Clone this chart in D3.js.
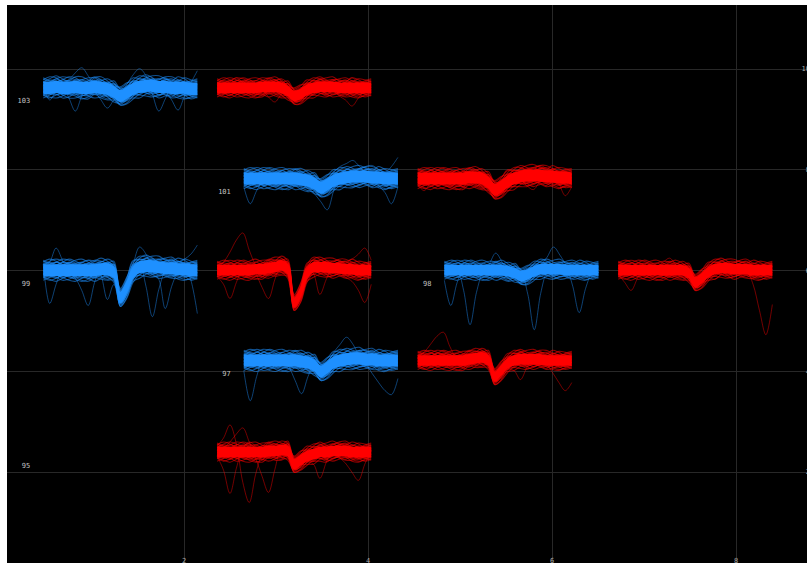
<!DOCTYPE html>
<html>
<head>
<meta charset="utf-8">
<script src="https://cdn.jsdelivr.net/npm/d3@7"></script>
<style>
  html, body { margin: 0; padding: 0; background: #fff; }
  svg { display: block; }
</style>
</head>
<body>
<svg id="chart" width="807" height="563"></svg>
<script>
// Axis ticks (probe geometry units)
const xTicks = [2, 4, 6, 8];
const yTicks = [2, 4, 6, 8, 10];

// Channel positions on the probe
const channelIds = [103, 101, 99, 98, 97, 95];
const channelX = [0.47, 2.65, 0.47, 4.83, 2.65, 0.47];
const channelY = [9.62, 7.82, 6.0, 6.0, 4.21, 2.39];

// Clusters: colour and horizontal offset of their waveform box
const clusterColors = ["#1e90ff", "#ff0000"];
const clusterOffsets = [0, 1.89];
const waveWidth = 1.675;

// One entry per (channel, cluster) waveform group
const groupChannel = [103, 103, 101, 101, 99, 99, 98, 98, 97, 97, 95];
const groupCluster = [0, 1, 0, 1, 0, 1, 0, 1, 0, 1, 1];
const groupSpread = [8, 7, 8, 8, 8, 7, 7, 7, 8, 7, 7];

// Mean waveform of each group (µV, 25 samples)
const meanWaves = [
  [0,0,1,0,0,1,0,0,1,0,-1,-4,-8,-5,-1,1,2,2,1,1,0,0,0,-1,-1],
  [0,0,0,0,0,0,0,1,1,1,0,-3,-8,-6,-2,0,1,1,1,0,0,0,0,0,0],
  [0,0,0,0,0,0,0,0,0,-1,-2,-5,-9,-6,-2,0,1,2,2,2,1,1,0,0,0],
  [0,0,0,0,0,0,0,0,1,1,0,-4,-11,-8,-3,0,2,3,3,3,2,2,1,1,0],
  [0,0,0,0,0,0,0,0,0,1,1,-2,-27,-17,-2,3,4,4,3,2,2,1,1,0,0],
  [0,0,0,0,0,0,1,1,2,3,5,1,-32,-22,-3,3,3,3,2,2,1,1,0,0,0],
  [0,0,0,0,0,0,0,0,0,0,-1,-3,-6,-4,-1,1,1,1,1,0,0,0,0,0,0],
  [0,0,0,0,0,0,0,0,0,0,0,-3,-12,-8,-2,1,2,2,1,1,1,0,0,0,0],
  [0,0,0,0,0,0,0,0,0,-1,-2,-5,-11,-7,-2,0,1,2,2,1,1,0,0,0,0],
  [0,0,0,0,0,0,0,0,1,2,3,0,-16,-10,-3,0,1,1,1,1,0,0,0,0,0],
  [0,0,0,0,0,0,0,0,1,1,2,1,-12,-8,-4,-2,0,0,1,1,1,0,0,0,0]
];

// Ripple of ordinary spikes around the mean (µV)
const ripples = [
  [2,-1,-3,0,3,1,-2,-3,1,3,0,-2,1,2,-1,-3,0,2,3,0,-2,-1,2,1,-1],
  [-2,1,3,1,-2,-3,0,2,1,-2,-3,0,-1,-2,1,3,1,-2,-1,2,3,0,-2,-1,1],
  [0,3,1,-2,-1,2,3,0,-3,-1,2,1,0,1,3,0,-2,-3,0,1,-1,3,1,-2,0],
  [1,-2,0,3,2,-1,-3,-1,2,0,-2,3,-1,-3,-2,1,3,0,-3,-1,1,-2,-3,0,2]
];
// Vertical placement of the ripple traces inside the cloud (fraction of spread)
const rippleLevels = [-1, -0.6, -0.2, 0.2, 0.6, 1];

// Individual spikes that stray from the mean (deviation from mean, µV)
const strayWaves = [
  [ [2,-12,-4,3,8,14,20,12,2,-3,2,5,3,0,-4,-2,3,6,2,-3,-5,-2,1,3,4],
    [-3,2,6,2,-10,-24,-8,4,6,2,-2,-6,-2,4,8,5,0,-4,-8,-3,2,6,3,-2,-5],
    [5,3,-2,-6,-3,4,8,6,-4,-12,-19,-8,2,6,3,-2,-6,-3,4,8,5,-2,-6,-3,2],
    [-4,-2,3,6,4,-2,-6,-3,2,5,3,-1,2,8,14,18,10,-8,-24,-12,2,6,3,-2,-4],
    [2,4,0,-5,-3,3,6,2,-3,-6,-2,3,5,2,-2,-4,2,7,3,-4,-12,-22,-8,6,18] ],
  [ [3,-4,-8,-3,4,8,4,-2,-10,-15,-6,2,4,2,-3,-6,-2,3,5,2,-3,-6,-2,3,1],
    [-2,3,6,10,5,-2,-6,-4,2,6,8,4,0,-5,-3,4,8,6,-2,-8,-12,-18,-10,-2,2],
    [0,-6,-3,4,6,2,-5,-9,-3,4,6,2,-2,3,6,2,-4,-8,-4,2,6,10,5,-2,-4] ],
  [ [-8,-25,-12,-2,4,6,2,-3,-6,-2,3,5,2,-4,-8,-4,2,6,3,-2,-5,-2,3,6,4],
    [3,5,2,-4,-6,-2,4,6,3,-2,-6,-10,-14,-25,-10,4,8,5,0,-4,-6,-2,2,4,2],
    [-2,-4,2,6,3,-3,-5,-1,4,6,2,-3,-1,4,8,12,14,16,10,3,-4,-8,-14,-25,-8],
    [4,2,-3,-6,-2,5,8,4,-2,-5,-2,3,6,3,-3,-6,-4,3,8,10,12,8,6,12,21] ],
  [ [-6,-12,-4,3,6,2,-3,-6,-2,4,6,2,-2,3,6,2,-4,-8,-6,2,6,4,-6,-18,-8],
    [4,2,-3,-6,-2,4,8,5,-2,-6,-9,-4,2,5,3,-2,-6,-3,4,10,8,2,-4,-6,-2],
    [-2,4,8,3,-4,-9,-4,3,6,2,-4,-2,4,8,12,6,-3,-10,-14,-6,3,6,2,-3,-4] ],
  [ [6,-33,-14,2,8,4,-4,-8,-3,4,6,2,3,-2,-6,-2,4,8,3,-5,-8,-3,4,8,6],
    [-4,2,8,4,-3,-8,-20,-35,-12,3,6,4,-3,2,6,3,-4,-8,-4,2,6,4,-2,-6,-3],
    [3,8,22,10,-2,-6,-2,3,6,-6,-30,-12,2,4,8,20,12,-5,-12,-40,-18,-2,4,2,-2],
    [-2,-5,-2,3,6,4,-2,-5,-2,4,6,3,-2,-4,-2,4,-20,-50,-22,-2,5,8,4,-10,-43],
    [4,2,-3,-8,-4,3,7,10,5,-2,-6,-3,4,8,12,6,-2,-6,-3,4,8,6,10,16,25] ],
  [ [2,8,18,30,37,20,4,-4,-6,-2,3,4,2,-2,-4,-1,3,5,2,-3,-5,-2,3,8,4],
    [-6,-14,-28,-12,2,6,3,-4,-8,-3,4,6,3,-2,-5,-4,2,6,4,-2,-8,-12,-20,-32,-14],
    [3,-2,-6,-2,4,6,-4,-18,-30,-12,2,5,3,4,6,-6,-27,-12,2,6,3,-3,-6,-2,3],
    [-3,2,6,3,-3,-6,-2,3,6,4,-2,-4,-2,3,6,3,-2,-5,-3,4,8,10,16,22,10] ],
  [ [-10,-35,-12,2,5,3,-2,-4,-1,3,5,2,-2,-4,-2,3,6,4,-2,-6,-3,2,4,2,-2],
    [3,6,2,-20,-54,-22,-2,4,8,4,-2,-5,-2,3,5,2,-3,-6,-2,4,6,3,-2,-4,-2],
    [-2,-4,2,6,3,-3,-5,6,17,8,-2,-3,2,-20,-58,-24,-2,4,3,-2,-4,-2,3,5,2],
    [4,2,-3,-6,-3,3,6,3,-2,-5,-2,4,6,3,-2,4,12,22,14,4,-16,-42,-18,-2,3] ],
  [ [2,-4,-2,3,5,2,-3,-5,-2,3,4,2,-1,-3,-2,3,5,2,-2,-4,-2,-14,-40,-64,-34],
    [-4,-12,-20,-8,2,6,3,-3,-6,-2,4,6,3,-2,-4,-1,3,6,8,4,-2,-6,-3,2,4],
    [4,6,2,-4,-8,-3,3,8,12,5,-3,-6,-2,3,-4,-10,-6,2,5,3,-3,-8,-3,3,6] ],
  [ [-10,-40,-16,2,6,3,-3,-6,-2,4,6,2,-2,-4,-1,3,5,2,-3,-6,-2,3,5,2,-2],
    [3,6,2,-4,-8,-4,2,-6,-20,-32,-14,2,4,2,-2,-4,-2,3,6,3,-2,-5,-2,3,4],
    [-2,-4,2,6,3,-3,-5,-2,3,6,3,-2,-4,4,10,16,22,14,2,-6,-3,2,6,4,2],
    [4,2,-4,-8,-3,4,6,2,-4,-6,-2,3,5,2,-3,-6,-3,2,4,-4,-14,-22,-30,-34,-18] ],
  [ [3,8,16,24,28,14,2,-4,-2,3,4,2,-2,-4,-2,3,5,2,-3,-5,-2,3,4,2,-2],
    [-4,-8,-3,3,6,3,-3,-6,-2,4,6,3,2,-3,-6,-10,-20,-8,2,5,3,-2,-4,-2,2],
    [2,-3,-6,-2,4,6,2,-4,-8,-3,3,5,2,-2,-4,2,6,4,-3,-6,-4,-12,-22,-30,-22] ],
  [ [-4,-18,-41,-16,4,10,6,-2,-6,-2,3,5,2,-2,-4,-2,3,5,2,-2,-4,-2,3,5,2],
    [6,14,27,8,-30,-50,-22,-2,5,4,-2,-5,-2,3,5,2,-3,-5,-2,3,6,3,-2,-4,-2],
    [-3,4,10,18,24,10,-6,-24,-41,-18,2,4,2,-3,-6,-10,-26,-10,3,6,2,-3,-6,-2,2],
    [2,-2,-6,-2,4,8,4,-2,-5,-2,3,6,3,-2,-4,-2,4,6,2,-6,-12,-20,-28,-12,2] ]
];

const ampGain = 0.02; // probe y-units per µV

const svg = d3.select("#chart");
const W = 807, H = 563;

const x = d3.scaleLinear().domain([0, 8]).range([0, 736]);
const y = d3.scaleLinear().domain([0, 10]).range([572.5, 68.75]);

// Plot background
svg.append("rect").attr("x", 7).attr("y", 5)
  .attr("width", W - 7).attr("height", H - 5).attr("fill", "#000");

const plot = svg.append("g");

// Grid
plot.append("g").selectAll("line").data(xTicks).join("line")
  .attr("x1", d => x(d) + 0.5).attr("x2", d => x(d) + 0.5)
  .attr("y1", 5).attr("y2", H)
  .attr("stroke", "#282828").attr("stroke-width", 1);
plot.append("g").selectAll("line").data(yTicks).join("line")
  .attr("x1", 7).attr("x2", W)
  .attr("y1", d => Math.round(y(d)) + 0.5).attr("y2", d => Math.round(y(d)) + 0.5)
  .attr("stroke", "#282828").attr("stroke-width", 1);

// Tick labels (the y labels sit right-aligned just past the right edge)
plot.append("g").selectAll("text").data(xTicks).join("text")
  .attr("x", d => x(d)).attr("y", 562.5)
  .attr("text-anchor", "middle")
  .attr("font-family", "DejaVu Sans Mono, monospace").attr("font-size", 7)
  .attr("fill", "#a8a8a8").text(d => d);
plot.append("g").selectAll("text").data(yTicks).join("text")
  .attr("x", 810).attr("y", d => y(d) + 2.5)
  .attr("text-anchor", "end")
  .attr("font-family", "DejaVu Sans Mono, monospace").attr("font-size", 7)
  .attr("fill", "#a8a8a8").text(d => d);

// Channel labels
plot.append("g").selectAll("text").data(channelIds).join("text")
  .attr("x", (d, i) => x(channelX[i]) - 13)
  .attr("y", (d, i) => y(channelY[i]) + 15.5)
  .attr("text-anchor", "end")
  .attr("font-family", "DejaVu Sans Mono, monospace").attr("font-size", 7)
  .attr("fill", "#c4c4c4").text(d => d);

// Waveforms
const nSamples = meanWaves[0].length;
const curve = d3.curveCatmullRom.alpha(0.5);
groupChannel.forEach((ch, g) => {
  const ci = channelIds.indexOf(ch);
  const cl = groupCluster[g];
  const x0 = channelX[ci] + clusterOffsets[cl];
  const t = d3.scaleLinear().domain([0, nSamples - 1]).range([x0, x0 + waveWidth]);
  const cy = channelY[ci];
  const mean = meanWaves[g];
  const spread = groupSpread[g];
  const color = clusterColors[cl];
  const layer = plot.append("g");

  const traceAt = shift => d3.line()
    .x((d, k) => x(t(k)))
    .y((d, k) => y(cy + (mean[k] + shift + d) * ampGain))
    .curve(curve);

  // stray spikes
  strayWaves[g].forEach(dev => {
    layer.append("path").datum(dev).attr("d", traceAt(0))
      .attr("fill", "none").attr("stroke", color)
      .attr("stroke-opacity", 0.45).attr("stroke-width", 1);
  });

  // ordinary spikes forming the fuzzy cloud
  rippleLevels.forEach(lvl => {
    ripples.forEach(rp => {
      layer.append("path").datum(rp).attr("d", traceAt(lvl * spread))
        .attr("fill", "none").attr("stroke", color)
        .attr("stroke-opacity", 0.55).attr("stroke-width", 1.1);
    });
  });

  // dense core
  layer.append("path").datum(mean)
    .attr("d", d3.area()
      .x((d, k) => x(t(k)))
      .y0((d, k) => y(cy + (d - spread * 0.75) * ampGain))
      .y1((d, k) => y(cy + (d + spread * 0.75) * ampGain))
      .curve(curve))
    .attr("fill", color);
});
</script>
</body>
</html>
